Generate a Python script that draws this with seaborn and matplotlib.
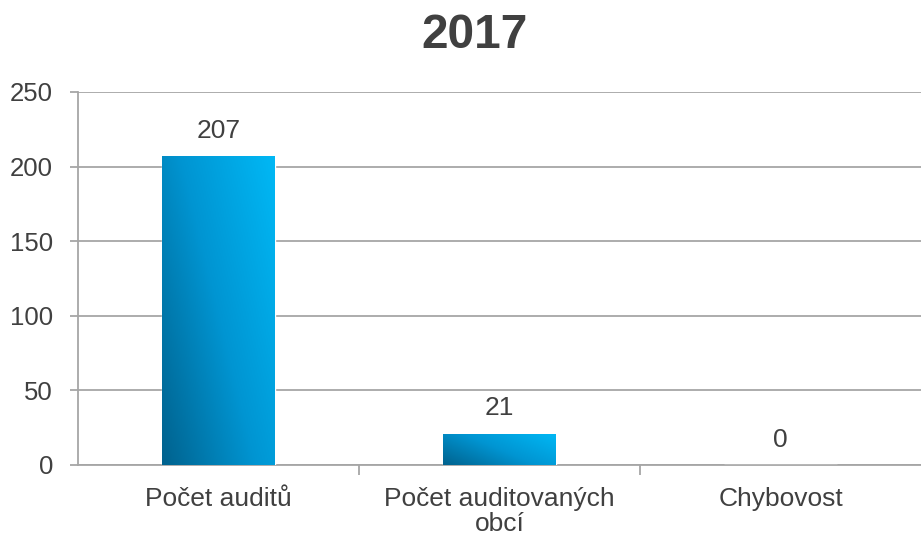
import matplotlib
matplotlib.use("Agg")
import matplotlib.pyplot as plt
import numpy as np
import pandas as pd
import seaborn as sns
from matplotlib.colors import LinearSegmentedColormap

# data
categories = ["Počet auditů", "Počet auditovaných\nobcí", "Chybovost"]
values = [207, 21, 0]
title = "2017"

df = pd.DataFrame({"kategorie": categories, "hodnota": values})

sns.set_theme(style="white")
plt.rcParams["font.family"] = ["Liberation Sans", "DejaVu Sans"]

fig = plt.figure(figsize=(9.21, 5.4), dpi=100)
ax = fig.add_axes([0.0847, 0.139, 0.9153, 0.6907])

sns.barplot(data=df, x="kategorie", y="hodnota", color="#0099D8", width=0.4,
            ax=ax, zorder=3)

# gradient fill, clipped to each bar
cmap = LinearSegmentedColormap.from_list("blu", ["#00628E", "#0095D2", "#00B8F5"])
gx, gy = np.meshgrid(np.linspace(0, 1, 100), np.linspace(0, 1, 100))
grad = gx * 0.6 + gy * 0.4
for bar in ax.patches:
    x0, y0 = bar.get_x(), bar.get_y()
    w, h = bar.get_width(), bar.get_height()
    if h <= 0:
        continue
    bar.set_facecolor("none")
    im = ax.imshow(grad, cmap=cmap, origin="lower", aspect="auto",
                   extent=[x0, x0 + w, y0, y0 + h], zorder=3)
    im.set_clip_path(bar)

ax.set_xlim(-0.5, 2.5)
ax.set_ylim(0, 250)
ax.set_yticks(range(0, 251, 50))

for i, v in enumerate(values):
    ax.text(i, v + 9, str(v), ha="center", va="bottom", fontsize=19,
            color="#404040")

fig.text(0.515, 0.935, title, ha="center", va="center", fontsize=34.5,
         fontweight="bold", color="#404040")
ax.set_xlabel("")
ax.set_ylabel("")

ax.grid(axis="y", color="#A6A6A6", linewidth=1.3, zorder=0)
ax.set_axisbelow(True)
for s in ["top", "right"]:
    ax.spines[s].set_visible(False)
for s in ["left", "bottom"]:
    ax.spines[s].set_color("#A6A6A6")
    ax.spines[s].set_linewidth(1.3)

ax.tick_params(axis="y", left=True, length=6, width=1.3, color="#A6A6A6",
               labelsize=18.5, labelcolor="#404040", pad=12)
ax.tick_params(axis="x", bottom=False, labelsize=19, labelcolor="#404040", pad=10)
ax.set_xticks([0.5, 1.5], minor=True)
ax.tick_params(axis="x", which="minor", bottom=True, length=7, width=1.3,
               color="#A6A6A6")
for lbl in ax.get_xticklabels():
    lbl.set_linespacing(1.05)

fig.savefig("out.png", dpi=100)
